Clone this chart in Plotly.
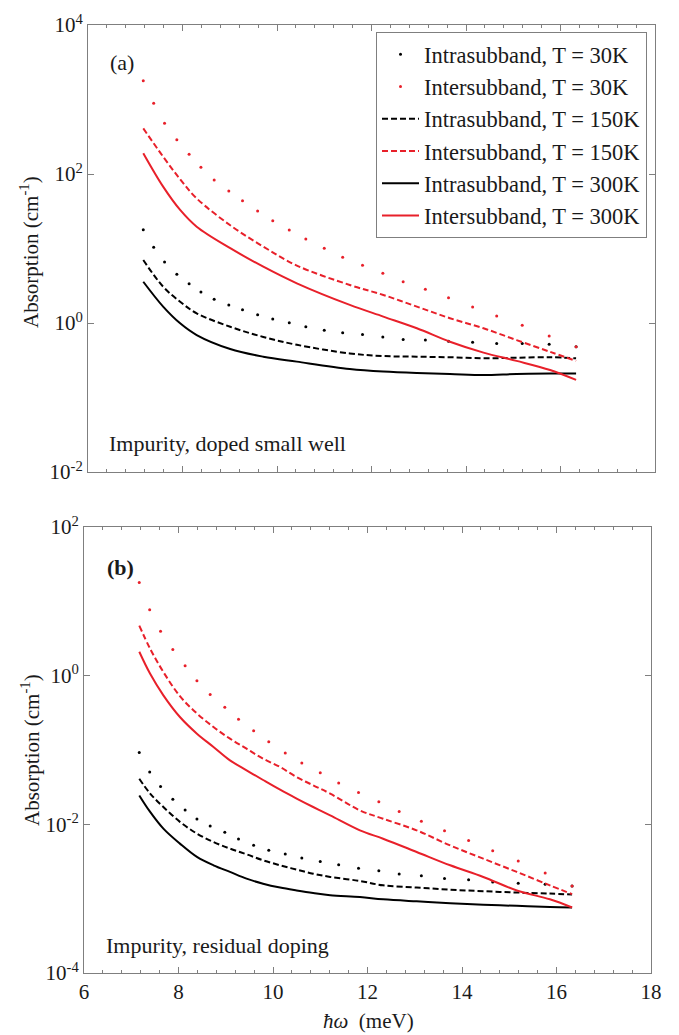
import plotly.graph_objects as go

# photon energy of the sampled points (meV), shared by both panels
x_dots = [7.17, 7.39, 7.62, 7.88, 8.14, 8.39, 8.67, 8.98, 9.27, 9.59, 9.91, 10.26, 10.61,
          11.0, 11.39, 11.81, 12.24, 12.67, 13.14, 13.63, 14.14, 14.65, 15.19, 15.76, 16.33]

# (a) doped small well
x_line_a = [7.17, 7.59, 7.95, 8.30, 9.01, 9.71, 10.42, 11.54, 12.25, 12.96, 13.66, 14.37,
            15.07, 15.78, 16.33]
a_intra_30 = [17.9, 10.4, 6.6, 4.5, 3.37, 2.61, 2.08, 1.75, 1.51, 1.29, 1.13, 1.01, 0.89,
              0.80, 0.74, 0.70, 0.65, 0.60, 0.59, 0.57, 0.55, 0.53, 0.53, 0.52, 0.48]
a_inter_30 = [1786, 889, 480, 289, 184, 123, 83, 59, 43.8, 31.9, 23.6, 17.7, 13.4, 10.1,
              7.62, 5.96, 4.65, 3.58, 2.83, 2.19, 1.64, 1.24, 0.93, 0.67, 0.48]
a_intra_150 = [7.0, 3.07, 1.93, 1.35, 0.89, 0.65, 0.51, 0.39, 0.36, 0.353, 0.347, 0.336,
               0.342, 0.347, 0.336]
a_inter_150 = [410, 171, 85, 47, 20.5, 10.6, 5.9, 3.24, 2.38, 1.66, 1.16, 0.85, 0.59,
               0.41, 0.31]
a_intra_300 = [3.58, 1.66, 0.99, 0.69, 0.448, 0.353, 0.303, 0.242, 0.223, 0.213, 0.207,
               0.200, 0.207, 0.210, 0.210]
a_inter_300 = [190, 67.6, 32.9, 19.6, 10.1, 5.7, 3.41, 1.75, 1.22, 0.85, 0.56, 0.40, 0.31,
               0.234, 0.172]

# (b) residual doping
x_line_b = [7.17, 7.40, 7.68, 8.03, 8.39, 8.74, 9.09, 9.44, 9.79, 10.15, 10.50, 10.85,
            11.21, 11.84, 12.33, 13.04, 13.75, 14.45, 15.16, 15.86, 16.33]
b_intra_30 = [0.0925, 0.0507, 0.0322, 0.0218, 0.01557, 0.01182, 0.00948, 0.00784, 0.00634,
              0.00525, 0.00448, 0.00400, 0.00352, 0.00316, 0.00285, 0.00257, 0.00238,
              0.00215, 0.00203, 0.00187, 0.00179, 0.00168, 0.00161, 0.00156, 0.00148]
b_inter_30 = [17.9, 7.73, 3.97, 2.25, 1.36, 0.853, 0.56, 0.375, 0.260, 0.181, 0.129, 0.0914,
              0.0667, 0.0495, 0.0361, 0.0269, 0.0202, 0.0149, 0.0110, 0.00817, 0.00604,
              0.00440, 0.00321, 0.00221, 0.00148]
b_intra_150 = [0.0411, 0.0259, 0.0171, 0.0108, 0.0075, 0.00578, 0.00471, 0.00395, 0.00328,
               0.00281, 0.00246, 0.00217, 0.00196, 0.00173, 0.00151, 0.00141, 0.00132,
               0.00126, 0.00121, 0.00117, 0.00114]
b_inter_150 = [4.72, 2.3, 1.12, 0.53, 0.31, 0.204, 0.142, 0.104, 0.0765, 0.0591, 0.0433,
               0.0335, 0.0259, 0.0154, 0.0119, 0.0083, 0.0052, 0.00345, 0.00229, 0.00151,
               0.00115]
b_intra_300 = [0.0245, 0.0147, 0.00875, 0.0055, 0.00364, 0.00281, 0.00229, 0.00186, 0.00159,
               0.00141, 0.00129, 0.00119, 0.00111, 0.00105, 0.00098, 0.00092, 0.00087,
               0.00083, 0.0008, 0.00077, 0.00076]
b_inter_300 = [2.1, 1.06, 0.544, 0.278, 0.166, 0.110, 0.0726, 0.0533, 0.0395, 0.0292, 0.0222,
               0.0171, 0.0132, 0.0083, 0.0064, 0.00425, 0.00281, 0.00196, 0.00129, 0.00098,
               0.00076]

legend_names = ["Intrasubband, T = 30K", "Intersubband, T = 30K",
                "Intrasubband, T = 150K", "Intersubband, T = 150K",
                "Intrasubband, T = 300K", "Intersubband, T = 300K"]

ticks_a = [1e-2, 1, 1e2, 1e4]
ticktext_a = ["10<sup>-2</sup>", "10<sup>0</sup>", "10<sup>2</sup>", "10<sup>4</sup>"]
ticks_b = [1e-4, 1e-2, 1, 1e2]
ticktext_b = ["10<sup>-4</sup>", "10<sup>-2</sup>", "10<sup>0</sup>", "10<sup>2</sup>"]
x_ticks = [6, 8, 10, 12, 14, 16, 18]

RED = "#e8202a"
BLACK = "#000000"
GREY = "#7f7f7f"
TXT = "#1a1a1a"
FONT = "Liberation Serif, Times New Roman, serif"

# the page body adds an 8px margin, so the figure is drawn 8px in from the window corner
OFF = 8
W, H = 679 - OFF, 1035 - OFF


def fx(px):
    return (px - OFF) / W


def fy(py):
    return 1 - (py - OFF) / H


fig = go.Figure()


def add_panel(xa, ya, xl, series, show):
    dots, lines = series[:2], series[2:]
    for i, (vals, col) in enumerate(zip(dots, [BLACK, RED])):
        fig.add_trace(go.Scatter(
            x=x_dots, y=vals, mode="markers", xaxis=xa, yaxis=ya,
            marker=dict(size=3, color=col), name=legend_names[i],
            legendgroup=str(i), showlegend=show))
    styles = ["6px,3px", "6px,3px", "solid", "solid"]
    for j, (vals, col) in enumerate(zip(lines, [BLACK, RED, BLACK, RED])):
        fig.add_trace(go.Scatter(
            x=xl, y=vals, mode="lines", xaxis=xa, yaxis=ya,
            line=dict(color=col, width=2, dash=styles[j], shape="spline", smoothing=1.0),
            name=legend_names[j + 2], legendgroup=str(j + 2), showlegend=show))


add_panel("x", "y", x_line_a,
          [a_intra_30, a_inter_30, a_intra_150, a_inter_150, a_intra_300, a_inter_300], True)
add_panel("x2", "y2", x_line_b,
          [b_intra_30, b_inter_30, b_intra_150, b_inter_150, b_intra_300, b_inter_300], False)

axis_common = dict(showline=True, linecolor=GREY, linewidth=1, mirror="ticks",
                   ticks="inside", tickcolor=GREY, ticklen=6, showgrid=False,
                   zeroline=False, automargin=False,
                   tickfont=dict(family=FONT, size=21, color=TXT))
minor_x = dict(dtick=0.4, ticks="inside", ticklen=3, tickcolor=GREY, showgrid=False)

fig.update_layout(
    template="none",
    width=W, height=H, margin=dict(l=0, r=0, t=0, b=0, pad=0),
    paper_bgcolor="white", plot_bgcolor="white",
    font=dict(family=FONT, size=21, color=TXT),
    xaxis=dict(domain=[fx(88), fx(655)], range=[6, 18], anchor="y", tickvals=x_ticks,
               showticklabels=False, minor=minor_x, **axis_common),
    yaxis=dict(domain=[fy(472), fy(25)], type="log", range=[-2, 4], anchor="x",
               tickvals=ticks_a, ticktext=ticktext_a, **axis_common),
    xaxis2=dict(domain=[fx(84), fx(651)], range=[6, 18], anchor="y2", tickvals=x_ticks,
                minor=minor_x, **axis_common),
    yaxis2=dict(domain=[fy(973), fy(527)], type="log", range=[-4, 2], anchor="x2",
                tickvals=ticks_b, ticktext=ticktext_b, **axis_common),
    legend=dict(x=fx(376), y=fy(32), xanchor="left", yanchor="top", itemwidth=37,
                bgcolor="white", bordercolor=GREY, borderwidth=1, tracegroupgap=0,
                font=dict(family=FONT, size=22.5, color=TXT)),
    showlegend=True,
)

annots = [
    ("(a)", 108, 62),
    ("Impurity, doped small well", 107, 444),
    ("<b>(b)</b>", 105, 567),
    ("Impurity, residual doping", 104, 945),
]
for text, px, py in annots:
    fig.add_annotation(text=text, x=fx(px), y=fy(py), xref="paper", yref="paper",
                       xanchor="left", yanchor="middle", showarrow=False,
                       font=dict(family=FONT, size=22, color=TXT))

for py in (252, 750):
    fig.add_annotation(text="Absorption (cm<sup>-1</sup>)", x=fx(30), y=fy(py),
                       xref="paper", yref="paper", textangle=-90, showarrow=False,
                       xanchor="center", yanchor="middle",
                       font=dict(family=FONT, size=21, color=TXT))

fig.add_annotation(text="<i>ħω</i>  (meV)", x=fx(368), y=fy(1021), xref="paper",
                   yref="paper", showarrow=False, xanchor="center", yanchor="middle",
                   font=dict(family=FONT, size=21, color=TXT))

fig.write_html("out.html")
